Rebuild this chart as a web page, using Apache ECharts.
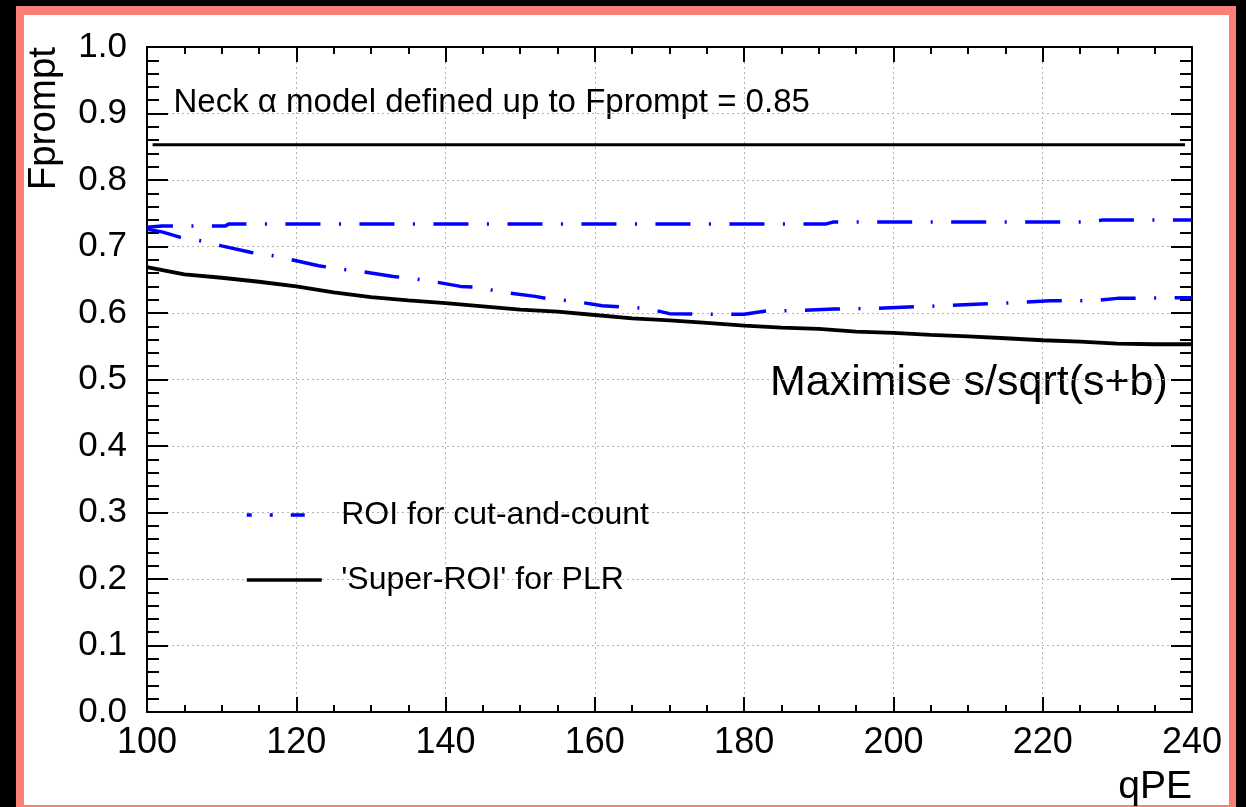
<!DOCTYPE html>
<html><head><meta charset="utf-8">
<script src="https://cdn.jsdelivr.net/npm/echarts@6/dist/echarts.min.js"></script>
<style>
html,body{margin:0;padding:0;background:#000;width:1246px;height:807px;overflow:hidden}
#frame{position:absolute;left:16px;top:6px;width:1205px;height:790px;border-style:solid;border-color:#fa7f76;border-width:9px 7px 2px 8px;background:#fff}
#chart{position:absolute;left:0;top:0;width:1246px;height:807px}
</style></head><body>
<div id="frame"></div><div id="chart"></div>
<script>
var FONT = '"Liberation Sans", Arial, Helvetica, sans-serif';

// x-axis ticks / labels
var xTicks = [100, 120, 140, 160, 180, 200, 220, 240];
var yTicks = [0.0, 0.1, 0.2, 0.3, 0.4, 0.5, 0.6, 0.7, 0.8, 0.9, 1.0];

// ROI for cut-and-count: upper boundary
var roiUpperQ = [100, 102, 110.5, 111, 191, 192, 227, 228, 240];
var roiUpperF = [0.729, 0.731, 0.731, 0.734, 0.734, 0.737, 0.737, 0.740, 0.740];

// ROI for cut-and-count: lower boundary
var roiLowerQ = [100, 102, 104.4, 107, 110, 114, 117, 119, 123, 126, 129, 133, 136, 138, 142, 145, 147, 152, 154, 157, 161, 164, 167, 170, 175, 180, 183, 188, 192, 198, 202, 207, 211, 216, 221, 227, 230, 237, 240];
var roiLowerF = [0.726, 0.722, 0.714, 0.709, 0.701, 0.691, 0.686, 0.681, 0.671, 0.666, 0.662, 0.655, 0.651, 0.648, 0.640, 0.638, 0.632, 0.625, 0.621, 0.618, 0.611, 0.609, 0.607, 0.599, 0.598, 0.598, 0.603, 0.604, 0.606, 0.607, 0.609, 0.611, 0.613, 0.6155, 0.6185, 0.6185, 0.622, 0.623, 0.623];

// 'Super-ROI' for PLR
var superQ = [100, 105, 110, 115, 120, 125, 130, 135, 140, 145, 150, 155, 160, 165, 170, 175, 180, 185, 190, 195, 200, 205, 210, 215, 220, 225, 230, 235, 240];
var superF = [0.669, 0.658, 0.653, 0.647, 0.640, 0.631, 0.624, 0.619, 0.615, 0.610, 0.605, 0.602, 0.597, 0.592, 0.589, 0.585, 0.581, 0.578, 0.576, 0.572, 0.570, 0.567, 0.565, 0.562, 0.559, 0.557, 0.554, 0.553, 0.553];

// Neck alpha model limit line
var neckQ = [100.75, 239.06];
var neckF = [0.853, 0.853];

function zip(a, b) { return a.map(function (v, i) { return [v, b[i]]; }); }

var BLUE = '#0000ff';
var roiName = 'ROI for cut-and-count';
var superName = "'Super-ROI' for PLR";

var tickStyle = { color: '#000', width: 2 };
function xAxisCfg(pos, labels) {
  return {
    type: 'value', min: 100, max: 240, interval: 20, position: pos,
    axisLine: { show: true, onZero: false, lineStyle: { color: '#000', width: 2 } },
    axisTick: { show: true, inside: true, length: 15, lineStyle: tickStyle },
    minorTick: { show: true, splitNumber: 4, length: 7, lineStyle: tickStyle },
    axisLabel: { show: labels, margin: 13, fontSize: 36, color: '#000', fontFamily: FONT },
    splitLine: { show: labels, lineStyle: { color: '#b4b4b4', width: 1, type: [2, 3] } },
    minorSplitLine: { show: false }
  };
}
function yAxisCfg(pos, labels) {
  return {
    type: 'value', min: 0, max: 1, interval: 0.1, position: pos,
    axisLine: { show: true, onZero: false, lineStyle: { color: '#000', width: 2 } },
    axisTick: { show: true, inside: true, length: 21, lineStyle: tickStyle },
    minorTick: { show: true, splitNumber: 5, length: 12, lineStyle: tickStyle },
    axisLabel: { show: labels, margin: 20, fontSize: 35, color: '#000', fontFamily: FONT,
      formatter: function (v) { return v.toFixed(1); } },
    splitLine: { show: labels, lineStyle: { color: '#b4b4b4', width: 1, type: [2, 3] } },
    minorSplitLine: { show: false }
  };
}

var hiddenSymbol = { color: 'rgba(0,0,0,0)', borderColor: 'rgba(0,0,0,0)', borderWidth: 0, opacity: 0 };

var chart = echarts.init(document.getElementById('chart'), null, { renderer: 'canvas' });
chart.setOption({
  animation: false,
  backgroundColor: 'transparent',
  grid: { left: 147, top: 47, width: 1045, height: 665, containLabel: false, outerBoundsMode: 'none' },
  xAxis: [xAxisCfg('bottom', true), xAxisCfg('top', false)],
  yAxis: [yAxisCfg('left', true), yAxisCfg('right', false)],
  legend: [
    {
      data: [{ name: roiName, itemStyle: hiddenSymbol, lineStyle: { type: [14, 18, 3, 18], width: 3.5, color: BLUE } }],
      orient: 'vertical', left: 245, top: 499, padding: 0,
      itemWidth: 75, itemHeight: 14, selectedMode: false,
      textStyle: { fontSize: 32, color: '#000', fontFamily: FONT, padding: [0, 0, 0, 14.5] }
    },
    {
      data: [{ name: superName, itemStyle: hiddenSymbol, lineStyle: { type: 'solid', width: 3.5, color: '#000' } }],
      orient: 'vertical', left: 245, top: 564, padding: 0,
      itemWidth: 75, itemHeight: 14, selectedMode: false,
      textStyle: { fontSize: 32, color: '#000', fontFamily: FONT, padding: [0, 0, 0, 14.5] }
    }
  ],
  series: [
    { name: 'neck', type: 'line', data: zip(neckQ, neckF), symbol: 'none', silent: true,
      lineStyle: { color: '#000', width: 3 }, itemStyle: { color: '#000' }, z: 3 },
    { name: roiName, type: 'line', data: zip(roiUpperQ, roiUpperF), symbol: 'none',
      lineStyle: { color: BLUE, width: 3.5, type: [35, 18.5, 2, 18.5], dashOffset: 9 },
      itemStyle: { color: BLUE }, z: 4 },
    { name: roiName, type: 'line', data: zip(roiLowerQ, roiLowerF), symbol: 'none',
      lineStyle: { color: BLUE, width: 3.5, type: [35, 18.5, 2, 18.5], dashOffset: 0 },
      itemStyle: { color: BLUE }, z: 4 },
    { name: superName, type: 'line', data: zip(superQ, superF), symbol: 'none',
      lineStyle: { color: '#000', width: 3.8 }, itemStyle: { color: '#000' }, z: 5 }
  ],
  graphic: [
    { type: 'text', x: 173.5, y: 102.5, silent: true,
      style: { text: 'Neck \u03b1 model defined up to Fprompt = 0.85', fontSize: 33, fontFamily: FONT, fill: '#000', align: 'left', verticalAlign: 'middle' } },
    { type: 'text', x: 770, y: 383.3, silent: true,
      style: { text: 'Maximise s/sqrt(s+b)', fontSize: 43, fontFamily: FONT, fill: '#000', align: 'left', verticalAlign: 'middle' } },
    { type: 'text', x: 1192, y: 787, silent: true,
      style: { text: 'qPE', fontSize: 39, fontFamily: FONT, fill: '#000', align: 'right', verticalAlign: 'middle' } },
    { type: 'text', x: 44, y: 47, rotation: Math.PI / 2, silent: true,
      style: { text: 'Fprompt', fontSize: 38.5, fontFamily: FONT, fill: '#000', align: 'right', verticalAlign: 'middle' } }
  ]
});
</script>
</body></html>
